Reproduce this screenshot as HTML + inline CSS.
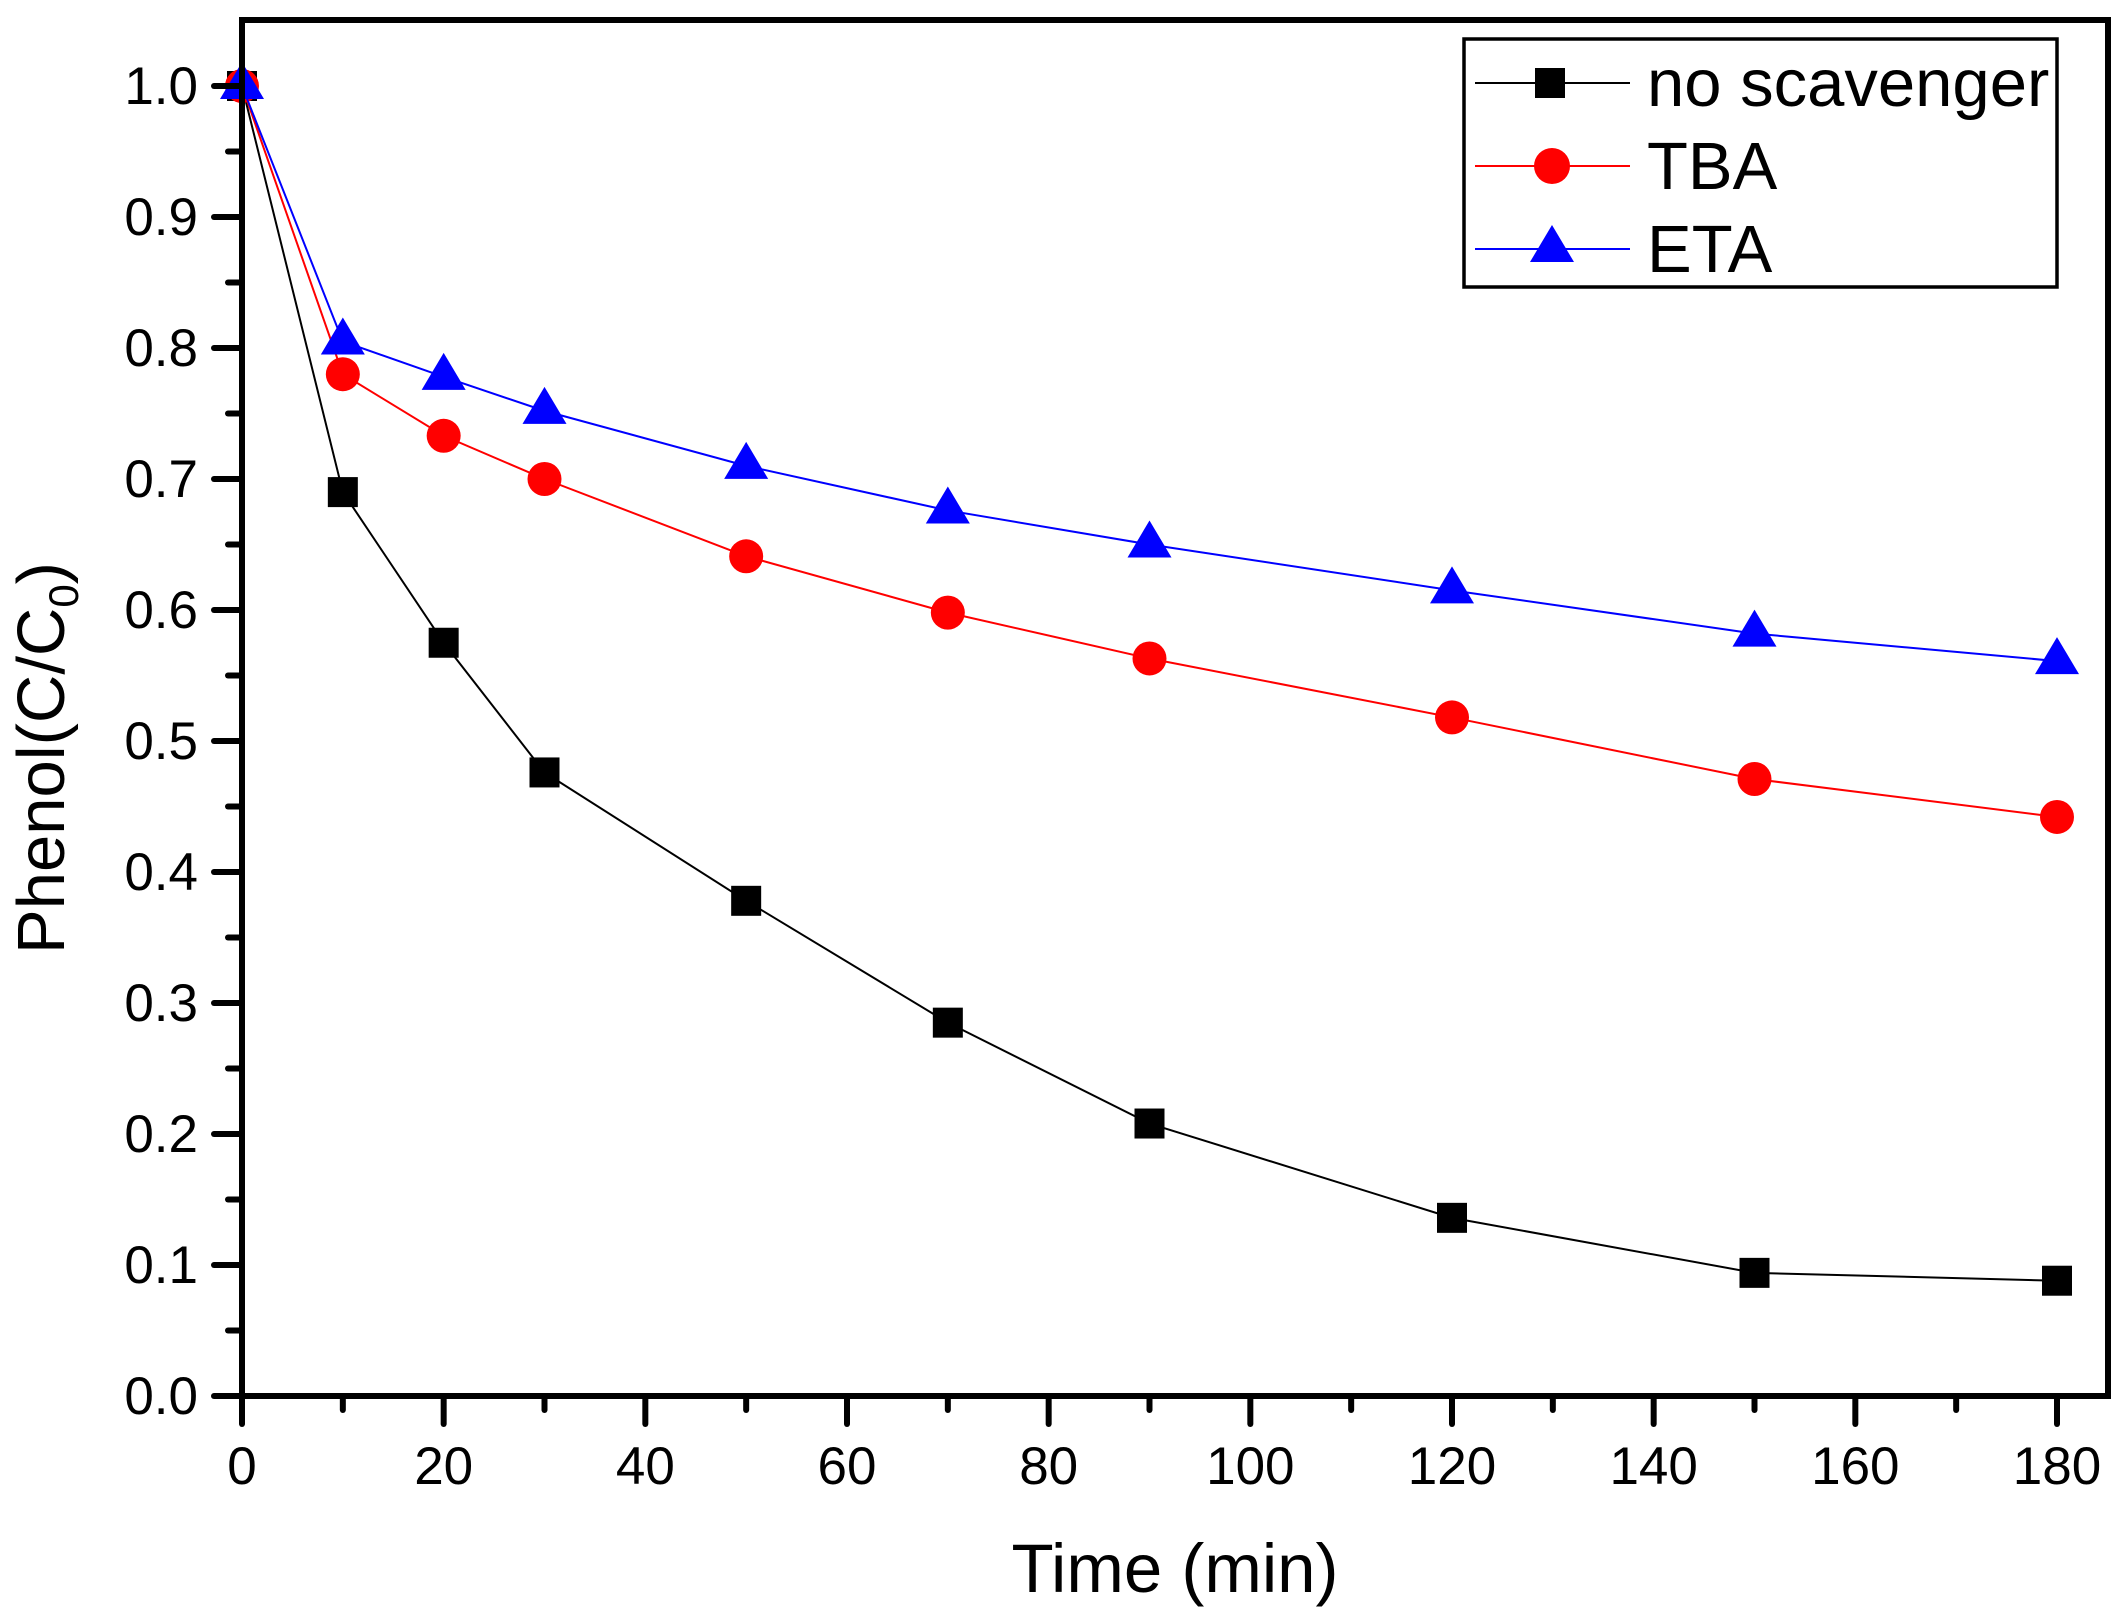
<!DOCTYPE html>
<html><head><meta charset="utf-8"><style>
html,body{margin:0;padding:0;background:#fff;}
svg{display:block;font-family:"Liberation Sans",Arial,sans-serif;}
</style></head><body>
<svg id="chart" width="2120" height="1618" viewBox="0 0 2120 1618">
<rect width="2120" height="1618" fill="#fff"/>
<g id="series"></g>
<g id="axes"></g>
<g id="legend">
  <rect x="1464" y="39" width="593" height="248" fill="#fff" stroke="#000" stroke-width="3.5"/>
  <g>
    <line x1="1475" y1="83" x2="1630" y2="83" stroke="#000" stroke-width="2"/>
    <rect x="1535" y="68" width="30" height="30" fill="#000"/>
    <text x="1647" y="106" font-size="67">no scavenger</text>
  </g>
  <g>
    <line x1="1475" y1="166" x2="1630" y2="166" stroke="#f00" stroke-width="2"/>
    <ellipse cx="1552" cy="166" rx="18" ry="18" fill="#f00"/>
    <text x="1647" y="189" font-size="67">TBA</text>
  </g>
  <g>
    <line x1="1475" y1="249" x2="1630" y2="249" stroke="#00f" stroke-width="2"/>
    <polygon points="1552,225 1574,262 1530,262" fill="#00f"/>
    <text x="1647" y="272" font-size="67">ETA</text>
  </g>
</g>
<text x="1175" y="1592" font-size="69" text-anchor="middle">Time (min)</text>
<text transform="translate(64,758) rotate(-90)" font-size="67" text-anchor="middle">Phenol(C/C<tspan font-size="42" dy="14">0</tspan><tspan dy="-14">)</tspan></text>
</svg>
<script>
const times = [0, 10, 20, 30, 50, 70, 90, 120, 150, 180];
const noScavenger = [1.0, 0.69, 0.575, 0.476, 0.378, 0.285, 0.208, 0.136, 0.094, 0.088];
const tba = [1.0, 0.78, 0.733, 0.70, 0.641, 0.598, 0.563, 0.518, 0.471, 0.442];
const eta = [1.0, 0.805, 0.778, 0.752, 0.71, 0.676, 0.65, 0.615, 0.582, 0.561];
const xTicks = [0, 20, 40, 60, 80, 100, 120, 140, 160, 180];
const yTicks = [0.0, 0.1, 0.2, 0.3, 0.4, 0.5, 0.6, 0.7, 0.8, 0.9, 1.0];

const NS = 'http://www.w3.org/2000/svg';
const X0 = 242, X1 = 2057, Y0 = 1396, Y1 = 86;
function sx(v){ return X0 + (v - 0) / 180 * (X1 - X0); }
function sy(v){ return Y0 - (v - 0) / 1.0 * (Y0 - Y1); }
function mk(tag, attrs, parent){ const e = document.createElementNS(NS, tag); for (const k in attrs) e.setAttribute(k, attrs[k]); parent.appendChild(e); return e; }

const axes = document.getElementById('axes');
const frame = mk('rect', {x:X0, y:20, width:2108-X0, height:Y0-20, fill:'none', stroke:'#000', 'stroke-width':6}, axes);



yTicks.forEach((v, i) => {
  const y = sy(v);
  const t = mk('line', {x1:X0-28, y1:y, x2:X0, y2:y, stroke:'#000', 'stroke-width':6, 'stroke-linecap':'round'}, axes);
  
  
  const lb = mk('text', {x:X0-44, y:y+18, 'font-size':53, 'text-anchor':'end'}, axes);
  lb.textContent = v.toFixed(1);
  
  
  if (i < yTicks.length - 1) {
    const ym = sy(v + 0.05);
    const m = mk('line', {x1:X0-14, y1:ym, x2:X0, y2:ym, stroke:'#000', 'stroke-width':6, 'stroke-linecap':'round'}, axes);
    
    
  }
});
xTicks.forEach((v, i) => {
  const x = sx(v);
  const t = mk('line', {x1:x, y1:Y0, x2:x, y2:Y0+28, stroke:'#000', 'stroke-width':6, 'stroke-linecap':'round'}, axes);
  
  
  const lb = mk('text', {x:x, y:Y0+88, 'font-size':53, 'text-anchor':'middle'}, axes);
  lb.textContent = String(v);
  
  
  if (i < xTicks.length - 1) {
    const xm = sx(v + 10);
    const m = mk('line', {x1:xm, y1:Y0, x2:xm, y2:Y0+14, stroke:'#000', 'stroke-width':6, 'stroke-linecap':'round'}, axes);
    
    
  }
});

const series = document.getElementById('series');
function drawSeries(vals, color, shape, name){
  const g = mk('g', {}, series);
  
  
  const pts = times.map((t, i) => sx(t) + ',' + sy(vals[i])).join(' ');
  const pl = mk('polyline', {points:pts, fill:'none', stroke:color, 'stroke-width':2}, g);
  
  
  times.forEach((t, i) => {
    const x = sx(t), y = sy(vals[i]);
    let m;
    if (shape === 'square') m = mk('rect', {x:x-15, y:y-15, width:30, height:30, fill:color}, g);
    else if (shape === 'circle') m = mk('circle', {cx:x, cy:y, r:17, fill:color}, g);
    else m = mk('polygon', {points:`${x},${y-24} ${x+22},${y+13} ${x-22},${y+13}`, fill:color}, g);
    
    
  });
}
drawSeries(noScavenger, '#000', 'square', 'no-scavenger');
drawSeries(tba, '#f00', 'circle', 'tba');
drawSeries(eta, '#00f', 'triangle', 'eta');
</script>
</body></html>
